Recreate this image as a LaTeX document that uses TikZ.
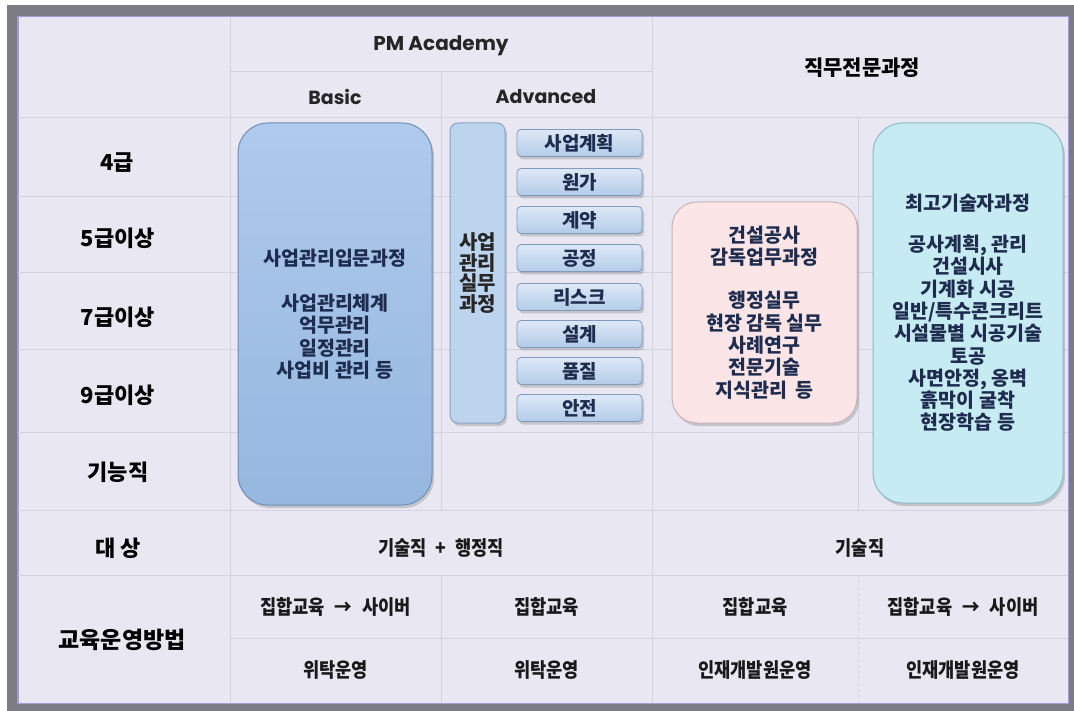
\documentclass[tikz,border=0pt]{standalone}
\usepackage{fontspec}
\usetikzlibrary{shadows}
\newfontfamily\kr{Noto Sans CJK KR}
\newfontfamily\krc[FakeStretch=0.88]{Noto Sans CJK KR}
\newfontfamily\pop{Poppins}
\definecolor{bg}{HTML}{E8E7F2}
\definecolor{framegray}{HTML}{7C7C84}
\definecolor{innerline}{HTML}{A39BDA}
\definecolor{gridc}{HTML}{D3D1E0}
\definecolor{navy}{HTML}{1E2D4F}
\definecolor{basictop}{HTML}{AECAEC}
\definecolor{basicbot}{HTML}{96B7DF}
\definecolor{basicdraw}{HTML}{6F8DB6}
\definecolor{advfill}{HTML}{BDD4EE}
\definecolor{advdraw}{HTML}{8AA3C6}
\definecolor{subtop}{HTML}{DDE9F7}
\definecolor{subbot}{HTML}{B3CBE8}
\definecolor{subdraw}{HTML}{8199BA}
\definecolor{pinkfill}{HTML}{FBE5E6}
\definecolor{pinkdraw}{HTML}{C9B3B8}
\definecolor{tealfill}{HTML}{C7EBF2}
\definecolor{tealdraw}{HTML}{8CBAC6}
\begin{document}
\begin{tikzpicture}[x=1pt,y=-1pt,
  grid/.style={gridc, line width=1pt},
  lab/.style={font=\kr\bfseries\fontsize{22}{24}\selectfont, text=black, inner sep=0pt},
  hdr/.style={font=\pop\bfseries\fontsize{19}{22}\selectfont, text=black!85, inner sep=0pt},
  cell/.style={font=\krc\bfseries\fontsize{20}{22}\selectfont, text=black!90, inner sep=0pt},
  boxtext/.style={font=\kr\bfseries\fontsize{19.5}{22.3}\selectfont, text=navy, align=center, inner sep=0pt},
  shadowed/.style={drop shadow={opacity=0.35, shadow xshift=2pt, shadow yshift=-3pt}},
  basicbox/.style={boxtext, shadowed, draw=basicdraw, line width=1pt, top color=basictop, bottom color=basicbot, rounded corners=30pt},
  advbox/.style={boxtext, shadowed, draw=advdraw, line width=1pt, fill=advfill, rounded corners=8pt, font=\kr\bfseries\fontsize{20}{20.5}\selectfont, text=black!85},
  subbox/.style={boxtext, shadowed, draw=subdraw, line width=0.8pt, top color=subtop, bottom color=subbot, rounded corners=4pt, minimum width=125pt, minimum height=27pt, font=\kr\bfseries\fontsize{19}{20}\selectfont},
  pinkbox/.style={boxtext, shadowed, draw=pinkdraw, line width=1pt, fill=pinkfill, rounded corners=25pt},
  tealbox/.style={boxtext, shadowed, draw=tealdraw, line width=1pt, fill=tealfill, rounded corners=30pt}
]
\useasboundingbox (0,0) rectangle (1074,711);
\fill[white] (0,0) rectangle (1074,711);
\fill[framegray] (7,5) rectangle (1074,711);
\fill[bg] (17,16) rectangle (1069,704);
\draw[innerline, line width=1.5pt] (17.75,16.75) rectangle (1068.25,703.25);

% grid
\draw[grid] (230,72) -- (652,72);
\foreach \yy in {118,197,273,350,432,510,575} \draw[grid] (18,\yy) -- (1068,\yy);
\draw[grid] (230,638) -- (1068,638);
\draw[grid] (230,17) -- (230,703);
\draw[grid] (652,17) -- (652,703);
\draw[grid] (441,72) -- (441,510);
\draw[grid] (441,575) -- (441,703);
\draw[grid] (858,118) -- (858,510);
\draw[grid, dashed] (858,575) -- (858,703);

% headers
\node[hdr, font=\pop\bfseries\fontsize{20}{22}\selectfont] (pm) at (441,46) {PM Academy};
\node[hdr] (basic) at (335,97) {Basic};
\node[hdr] (adv) at (546,97) {Advanced};
\node[lab, font=\kr\bfseries\fontsize{21}{24}\selectfont] (jm) at (862,68) {직무전문과정};

% left labels
\node[lab] (g4) at (117,163) {4급};
\node[lab] (g5) at (118,238) {5급이상};
\node[lab] (g7) at (118,317) {7급이상};
\node[lab] (g9) at (118,395) {9급이상};
\node[lab] (gk) at (118,472) {기능직};
\node[lab] (ds) at (118,548) {대 상};
\node[lab, font=\kr\bfseries\fontsize{23}{24}\selectfont] (edu) at (122,640) {교육운영방법};

% boxes
\node[basicbox, minimum width=194pt, minimum height=382pt] (bbox) at (335,314)
 {사업관리입문과정\\[23pt]사업관리체계\\억무관리\\일정관리\\사업비 관리 등};
\node[advbox, minimum width=55pt, minimum height=300pt] (abox) at (477.5,273)
 {사업\\관리\\실무\\과정};
\foreach \t/\yy [count=\i] in {사업계획/143, 원가/182, 계약/220, 공정/258, 리스크/297, 설계/334, 품질/371, 안전/408}
  \node[subbox] (s\i) at (579.5,\yy) {\t};
\node[pinkbox, minimum width=185pt, minimum height=221pt] (pbox) at (764.5,312.5)
 {건설공사\\감독업무과정\\[21pt]행정실무\\현장 감독 실무\\사례연구\\전문기술\\지식관리\ \ 등};
\node[tealbox, minimum width=190pt, minimum height=380pt] (tbox) at (968,313)
 {최고기술자과정\\[18.6pt]공사계획, 관리\\건설시사\\기계화 시공\\일반/특수콘크리트\\시설물별 시공기술\\토공\\사면안정, 옹벽\\흙막이 굴착\\현장학습 등};

% bottom rows
\node[cell] (t1) at (441,548) {기술직\hspace{9pt}+\hspace{9pt}행정직};
\node[cell] (t2) at (860,548) {기술직};
\node[cell] (c11) at (335.5,607) {집합교육\hspace{10pt}→\hspace{10pt}사이버};
\node[cell] (c12) at (546.5,607) {집합교육};
\node[cell] (c13) at (755,607) {집합교육};
\node[cell] (c14) at (963,607) {집합교육\hspace{10pt}→\hspace{10pt}사이버};
\node[cell] (c21) at (335.5,670) {위탁운영};
\node[cell] (c22) at (546.5,670) {위탁운영};
\node[cell] (c23) at (755,670) {인재개발원운영};
\node[cell] (c24) at (963,670) {인재개발원운영};
\end{tikzpicture}
\end{document}
